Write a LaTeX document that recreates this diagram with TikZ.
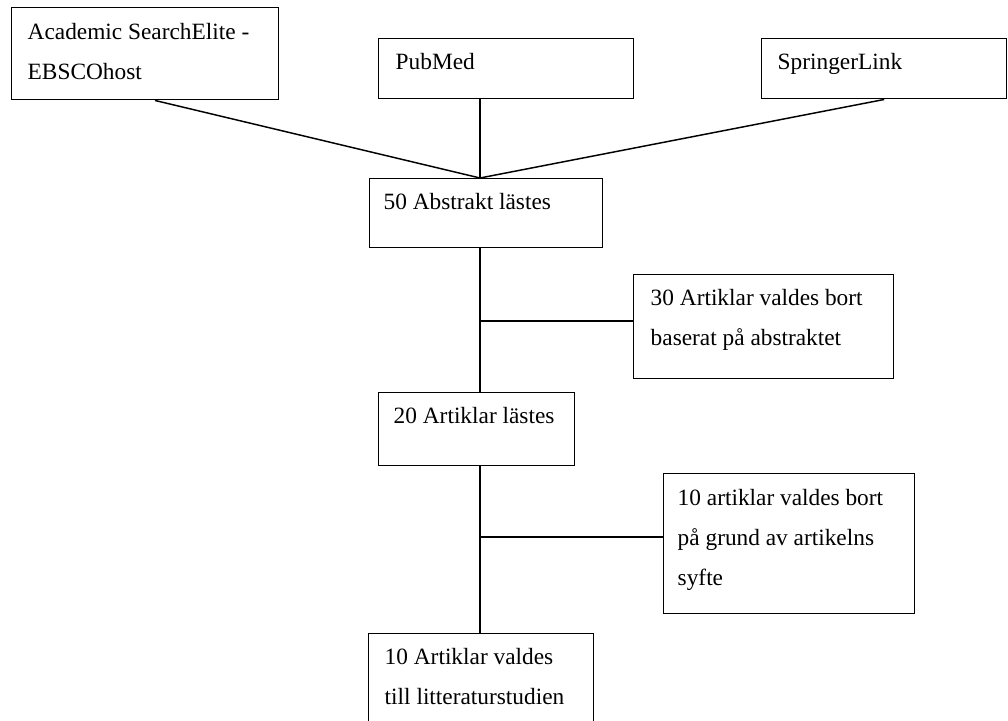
\documentclass[tikz,border=0pt]{standalone}
\usepackage{fontspec}
\setmainfont{Liberation Serif}
\usetikzlibrary{calc}

\tikzset{
    flowbox/.style={draw, line width=1.1pt, anchor=north west, inner sep=0pt},
    flowtext/.style={anchor=base west, inner sep=0pt, align=left,
        font=\fontsize{17.5}{30}\selectfont}
}

\begin{document}
\begin{tikzpicture}[x=0.75pt, y=-0.75pt, line width=1.1pt]
    \clip (0,0) rectangle (1008,721);

    % databases
    \node[flowbox, minimum width=267*0.75pt, minimum height=92*0.75pt] (acad) at (11,7) {};
    \node[flowbox, minimum width=255*0.75pt, minimum height=60*0.75pt] (pub) at (378,38) {};
    \node[flowbox, minimum width=245*0.75pt, minimum height=60*0.75pt] (spr) at (761,38) {};
    \node[flowtext] (acadtxt) at ($(acad.north west)+(16,72)$) {Academic SearchElite -\\EBSCOhost};
    \node[flowtext] (pubtxt) at ($(pub.north west)+(17,31)$) {PubMed};
    \node[flowtext] (sprtxt) at ($(spr.north west)+(16,31)$) {SpringerLink};

    % selection steps
    \node[flowbox, minimum width=233*0.75pt, minimum height=69*0.75pt] (abs) at (369,178) {};
    \node[flowbox, minimum width=260*0.75pt, minimum height=104*0.75pt] (excla) at (633,274) {};
    \node[flowbox, minimum width=196*0.75pt, minimum height=73*0.75pt] (read) at (378,392) {};
    \node[flowbox, minimum width=251*0.75pt, minimum height=140*0.75pt] (exclb) at (663,473) {};
    \node[flowbox, minimum width=225*0.75pt, minimum height=120*0.75pt] (final) at (368,633) {};
    \node[flowtext] (abstxt) at ($(abs.north west)+(14,31)$) {50 Abstrakt lästes};
    \node[flowtext] (exclatxt) at ($(excla.north west)+(17,71)$) {30 Artiklar valdes bort\\baserat på abstraktet};
    \node[flowtext] (readtxt) at ($(read.north west)+(15,31)$) {20 Artiklar lästes};
    \node[flowtext] (exclbtxt) at ($(exclb.north west)+(14,112)$) {10 artiklar valdes bort\\på grund av artikelns\\syfte};
    \node[flowtext] (finaltxt) at ($(final.north west)+(16,71)$) {10 Artiklar valdes\\till litteraturstudien};

    % connectors
    \coordinate (join) at (480,178);
    \coordinate (forka) at (480,321);
    \coordinate (forkb) at (480,537);
    \draw (acad.south west) ++(144,0) -- (join);
    \draw (pub.south -| join) -- (join);
    \draw (spr.south) -- (join);
    \draw (abs.south -| join) -- (read.north -| join);
    \draw (read.south -| join) -- (final.north -| join);
    \draw (forka) -- (forka -| excla.west);
    \draw (forkb) -- (forkb -| exclb.west);
\end{tikzpicture}
\end{document}
